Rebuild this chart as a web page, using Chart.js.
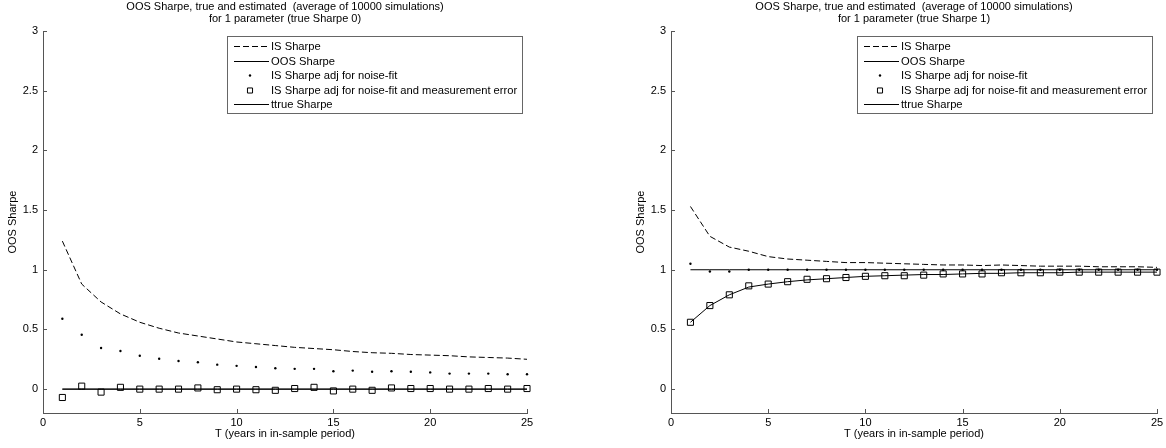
<!DOCTYPE html>
<html>
<head>
<meta charset="utf-8">
<script src="https://cdn.jsdelivr.net/npm/chart.js@4.4.1/dist/chart.umd.min.js"></script>
<style>
html, body { margin: 0; padding: 0; background: #fff; overflow: hidden; }
#wrap { position: relative; width: 1166px; height: 448px; }
canvas { position: absolute; top: 0; }
</style>
</head>
<body>
<div id="wrap">
  <canvas id="c0" width="583" height="448" style="left:0px"></canvas>
  <canvas id="c1" width="538" height="448" style="left:628px"></canvas>
</div>
<script>
// values
const years = [1, 2, 3, 4, 5, 6, 7, 8, 9, 10, 11, 12, 13, 14, 15, 16, 17, 18, 19, 20, 21, 22, 23, 24, 25];
const xTicks = [0, 5, 10, 15, 20, 25];
const yTicks = [0, 0.5, 1, 1.5, 2, 2.5, 3];

const seriesNames = ['IS Sharpe', 'OOS Sharpe', 'IS Sharpe adj for noise-fit',
  'IS Sharpe adj for noise-fit and measurement error', 'ttrue Sharpe'];

// true Sharpe 0
const isSharpe0 = [1.24, 0.88, 0.73, 0.63, 0.56, 0.51, 0.47, 0.445, 0.42, 0.395, 0.38, 0.365, 0.35, 0.34, 0.33, 0.315, 0.305, 0.30, 0.29, 0.285, 0.28, 0.27, 0.265, 0.26, 0.25];
const oos0 = [0, 0, 0, 0, 0, 0, 0, 0, 0, 0, 0, 0, 0, 0, 0, 0, 0, 0, 0, 0, 0, 0, 0, 0, 0];
const adjNoise0 = [0.59, 0.455, 0.345, 0.32, 0.28, 0.255, 0.235, 0.225, 0.205, 0.195, 0.185, 0.175, 0.17, 0.17, 0.15, 0.155, 0.145, 0.15, 0.145, 0.14, 0.13, 0.13, 0.13, 0.125, 0.125];
const adjBoth0 = [-0.07, 0.025, -0.025, 0.015, 0, 0, 0, 0.01, -0.005, 0, -0.005, -0.01, 0.005, 0.015, -0.015, 0, -0.01, 0.01, 0.005, 0.005, 0, 0, 0.005, 0, 0.005];
const true0 = [0, 0, 0, 0, 0, 0, 0, 0, 0, 0, 0, 0, 0, 0, 0, 0, 0, 0, 0, 0, 0, 0, 0, 0, 0];

// true Sharpe 1
const isSharpe1 = [1.53, 1.28, 1.19, 1.155, 1.11, 1.09, 1.08, 1.07, 1.06, 1.06, 1.055, 1.05, 1.045, 1.04, 1.04, 1.035, 1.04, 1.035, 1.03, 1.03, 1.03, 1.025, 1.025, 1.025, 1.02];
const oos1 = [0.56, 0.70, 0.79, 0.855, 0.88, 0.90, 0.915, 0.925, 0.935, 0.945, 0.95, 0.955, 0.96, 0.96, 0.965, 0.97, 0.97, 0.975, 0.975, 0.975, 0.98, 0.98, 0.98, 0.98, 0.98];
const adjNoise1 = [1.05, 0.985, 0.985, 1.0, 1.0, 1.0, 1.0, 1.0, 1.0, 1.0, 1.0, 1.0, 1.0, 1.0, 1.0, 1.0, 1.0, 1.0, 1.0, 1.0, 1.0, 1.0, 1.0, 1.0, 1.0];
const adjBoth1 = [0.56, 0.70, 0.79, 0.865, 0.88, 0.90, 0.92, 0.925, 0.935, 0.945, 0.95, 0.95, 0.955, 0.965, 0.965, 0.965, 0.975, 0.975, 0.975, 0.98, 0.98, 0.98, 0.98, 0.98, 0.98];
const true1 = [1, 1, 1, 1, 1, 1, 1, 1, 1, 1, 1, 1, 1, 1, 1, 1, 1, 1, 1, 1, 1, 1, 1, 1, 1];

const axisColor = '#555';
const fontFamily = '"Liberation Sans", Arial, sans-serif';
Chart.defaults.font.family = fontFamily;
Chart.defaults.font.size = 11;
Chart.defaults.color = '#000';

function pts(vals) {
  return years.map((x, i) => ({x: x, y: vals[i]}));
}

// titles, inward tick marks and the boxed legend
function decorPlugin(titleLines) {
  return {
    id: 'decor',
    afterDraw(chart) {
      const ctx = chart.ctx;
      const a = chart.chartArea;
      const xs = chart.scales.x, ys = chart.scales.y;
      ctx.save();

      ctx.strokeStyle = axisColor;
      ctx.lineWidth = 1;
      ctx.beginPath();
      xs.ticks.forEach(t => {
        const px = Math.round(xs.getPixelForValue(t.value)) + 0.5;
        ctx.moveTo(px, a.bottom);
        ctx.lineTo(px, a.bottom - 4);
      });
      ys.ticks.forEach(t => {
        const py = Math.round(ys.getPixelForValue(t.value)) + 0.5;
        ctx.moveTo(a.left, py);
        ctx.lineTo(a.left + 4, py);
      });
      ctx.stroke();

      ctx.fillStyle = '#000';
      ctx.font = '11px ' + fontFamily;
      ctx.textAlign = 'center';
      ctx.textBaseline = 'middle';
      const cx = (a.left + a.right) / 2;
      ctx.fillText(titleLines[0], cx, 6.5);
      ctx.fillText(titleLines[1], cx, 19);

      // legend box
      const lw = 295, lh = 77;
      const lx = Math.round(a.right - 5 - lw), ly = Math.round(a.top + 5);
      ctx.fillStyle = '#fff';
      ctx.fillRect(lx, ly, lw, lh);
      ctx.strokeStyle = '#666';
      ctx.strokeRect(lx + 0.5, ly + 0.5, lw, lh);
      ctx.textAlign = 'left';
      ctx.font = '11.2px ' + fontFamily;
      chart.data.datasets.forEach((ds, i) => {
        const cy = Math.round(ly + 10 + i * 14.5) + 0.5;
        ctx.strokeStyle = '#000';
        ctx.fillStyle = '#000';
        ctx.lineWidth = 1;
        if (ds.showLine) {
          ctx.setLineDash(ds.borderDash || []);
          ctx.beginPath();
          ctx.moveTo(lx + 7, cy);
          ctx.lineTo(lx + 42, cy);
          ctx.stroke();
          ctx.setLineDash([]);
        } else {
          ctx.fillStyle = ds.pointBackgroundColor;
          Chart.helpers.drawPoint(ctx, {
            pointStyle: ds.pointStyle,
            radius: ds.pointStyle === 'rect' ? 3.6 : ds.pointRadius,
            rotation: 0,
            borderWidth: ds.pointBorderWidth
          }, lx + 23, cy);
        }
        ctx.fillStyle = '#000';
        ctx.fillText(ds.label, lx + 44, cy);
      });
      ctx.restore();
    }
  };
}

function makeChart(id, titleLines, isS, oos, adjN, adjB, tru, padRight) {
  const ctx = document.getElementById(id).getContext('2d');
  return new Chart(ctx, {
    type: 'scatter',
    data: {
      datasets: [
        {label: seriesNames[0], data: pts(isS), showLine: true, borderColor: '#000', borderWidth: 1,
          borderDash: [6, 3], pointRadius: 0, clip: false},
        {label: seriesNames[1], data: pts(oos), showLine: true, borderColor: '#000', borderWidth: 1,
          pointRadius: 0, clip: false},
        {label: seriesNames[2], data: pts(adjN), showLine: false, pointStyle: 'circle', pointRadius: 1.2,
          pointBackgroundColor: '#000', pointBorderColor: '#000', pointBorderWidth: 0, clip: false},
        {label: seriesNames[3], data: pts(adjB), showLine: false, pointStyle: 'rect', pointRadius: 4.3,
          pointBackgroundColor: 'rgba(0,0,0,0)', pointBorderColor: '#000', pointBorderWidth: 1, clip: false},
        {label: seriesNames[4], data: pts(tru), showLine: true, borderColor: '#000', borderWidth: 1,
          pointRadius: 0, clip: false}
      ]
    },
    options: {
      responsive: false,
      animation: false,
      events: [],
      layout: {padding: {top: 31, right: padRight, bottom: 0, left: 0}},
      plugins: {legend: {display: false}, tooltip: {enabled: false}},
      scales: {
        x: {
          type: 'linear', min: 0, max: 25,
          grid: {display: false, drawTicks: false, tickLength: 0},
          border: {display: true, color: axisColor, width: 1},
          ticks: {padding: 3, callback: v => String(v)},
          afterBuildTicks: s => { s.ticks = xTicks.map(v => ({value: v})); },
          afterFit: s => { s.height = 35; s.paddingLeft = 0; s.paddingRight = 0; },
          title: {display: true, text: 'T (years in in-sample period)', padding: {top: 0, bottom: 7}}
        },
        y: {
          type: 'linear', min: -0.2, max: 3,
          grid: {display: false, drawTicks: false, tickLength: 0},
          border: {display: true, color: axisColor, width: 1},
          ticks: {padding: 5, callback: v => String(v)},
          afterBuildTicks: s => { s.ticks = yTicks.map(v => ({value: v})); },
          afterFit: s => { s.width = 43; s.paddingTop = 0; s.paddingBottom = 0; },
          title: {display: true, text: 'OOS Sharpe', padding: {top: 6, bottom: 0}}
        }
      }
    },
    plugins: [decorPlugin(titleLines)]
  });
}

makeChart('c0', ['OOS Sharpe, true and estimated  (average of 10000 simulations)', 'for 1 parameter (true Sharpe 0)'],
  isSharpe0, oos0, adjNoise0, adjBoth0, true0, 56);
makeChart('c1', ['OOS Sharpe, true and estimated  (average of 10000 simulations)', 'for 1 parameter (true Sharpe 1)'],
  isSharpe1, oos1, adjNoise1, adjBoth1, true1, 9);
</script>
</body>
</html>
